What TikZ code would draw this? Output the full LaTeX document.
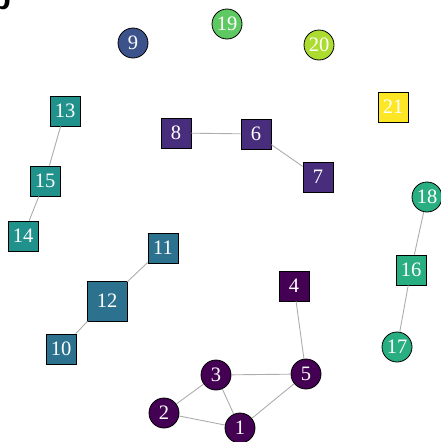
\documentclass[tikz,border=0pt]{standalone}
\usepackage{fontspec}
\setmainfont{Liberation Serif}
\setsansfont{Liberation Sans}
\definecolor{vA}{HTML}{440154}
\definecolor{vB}{HTML}{472D7B}
\definecolor{vC}{HTML}{3B528B}
\definecolor{vD}{HTML}{2C728E}
\definecolor{vE}{HTML}{21918C}
\definecolor{vF}{HTML}{28AE80}
\definecolor{vG}{HTML}{5EC962}
\definecolor{vH}{HTML}{ADDC30}
\definecolor{vI}{HTML}{FDE725}
\begin{document}
\begin{tikzpicture}[x=1pt,y=-1pt,
  vtx/.style={draw=black,line width=0.8pt,text=white,inner sep=0pt,
    font=\fontsize{20.5}{20.5}\selectfont},
  sq/.style={vtx,rectangle,minimum size=30pt},
  bigsq/.style={vtx,rectangle,minimum size=40pt},
  rnd/.style={vtx,circle,minimum size=30pt},
  link/.style={draw=black!32,line width=0.9pt}]
  \clip (0,0) rectangle (441,442);
  \useasboundingbox (0,0) rectangle (441,442);
  % panel letter, cut off at the corner
  \node[anchor=base east,inner sep=0pt,font=\sffamily\bfseries\fontsize{32}{32}\selectfont] (tag) at (11,9) {b};
  % first group
  \node[rnd,fill=vA] (n1) at (240,428) {1};
  \node[rnd,fill=vA] (n2) at (164,413) {2};
  \node[rnd,fill=vA] (n3) at (216,375) {3};
  \node[sq,fill=vA]  (n4) at (294,286) {4};
  \node[rnd,fill=vA] (n5) at (306,374) {5};
  % second group
  \node[sq,fill=vB] (n6) at (256,134) {6};
  \node[sq,fill=vB] (n7) at (318,177) {7};
  \node[sq,fill=vB] (n8) at (176,133) {8};
  \node[rnd,fill=vC] (n9) at (133,43) {9};
  % third group
  \node[sq,fill=vD]    (n10) at (61,349) {10};
  \node[sq,fill=vD]    (n11) at (163,248) {11};
  \node[bigsq,fill=vD] (n12) at (107,301) {12};
  % fourth group
  \node[sq,fill=vE] (n13) at (65,111) {13};
  \node[sq,fill=vE] (n14) at (23,236) {14};
  \node[sq,fill=vE] (n15) at (45,181) {15};
  % fifth group
  \node[sq,fill=vF]  (n16) at (411,270) {16};
  \node[rnd,fill=vF] (n17) at (397,347) {17};
  \node[rnd,fill=vF] (n18) at (427,197) {18};
  \node[rnd,fill=vG] (n19) at (227,24) {19};
  \node[rnd,fill=vH] (n20) at (319,45) {20};
  \node[sq,fill=vI] (n21) at (393,107) {21};
  % edges
  \draw[link] (n8) -- (n6);
  \draw[link] (n6) -- (n7);
  \draw[link] (n13) -- (n15);
  \draw[link] (n15) -- (n14);
  \draw[link] (n11) -- (n12);
  \draw[link] (n12) -- (n10);
  \draw[link] (n18) -- (n16);
  \draw[link] (n16) -- (n17);
  \draw[link] (n4) -- (n5);
  \draw[link] (n3) -- (n5);
  \draw[link] (n3) -- (n1);
  \draw[link] (n2) -- (n3);
  \draw[link] (n2) -- (n1);
  \draw[link] (n1) -- (n5);
\end{tikzpicture}
\end{document}
